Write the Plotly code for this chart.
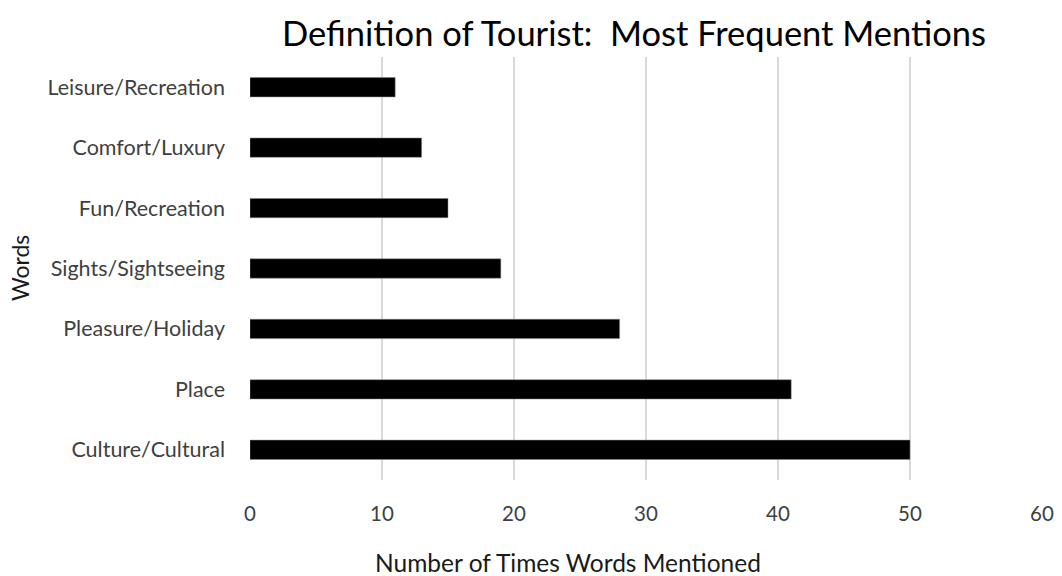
import plotly.graph_objects as go

categories = ["Culture/Cultural", "Place", "Pleasure/Holiday", "Sights/Sightseeing",
              "Fun/Recreation", "Comfort/Luxury", "Leisure/Recreation"]
values = [50, 41, 28, 19, 15, 13, 11]
x_ticks = [0, 10, 20, 30, 40, 50, 60]

FONT = "Lato"
W, H = 1062, 576
L, T, R, B = 250, 57, 20, 96

fig = go.Figure(go.Bar(
    x=values, y=categories, orientation="h",
    marker=dict(color="black", line=dict(color="#888888", width=0.5)),
    width=0.32,
))

pw, ph = W - L - R, H - T - B
def px(x): return (x - L) / pw
def py(y): return (H - B - y) / ph

fig.update_layout(
    width=W, height=H,
    margin=dict(l=L, r=R, t=T, b=B, autoexpand=False),
    paper_bgcolor="white", plot_bgcolor="white",
    showlegend=False,
    font=dict(family=FONT, color="#404040", size=21),
    xaxis=dict(range=[0, 60], tickvals=x_ticks, showgrid=True, gridcolor="#d9d9d9",
               gridwidth=1.5, zeroline=False, showline=False, ticks="", automargin=False,
               ticklabelstandoff=19, tickfont=dict(size=20.5, color="#404040")),
    yaxis=dict(showgrid=False, zeroline=False, showline=False, ticks="", automargin=False,
               ticklabelstandoff=24, tickfont=dict(size=21.5, color="#404040"),
               range=[-0.5, 6.5]),
    annotations=[
        dict(text="Definition of Tourist:  Most Frequent Mentions",
             x=px(634), y=py(32), xref="paper", yref="paper",
             xanchor="center", yanchor="middle", showarrow=False,
             font=dict(family=FONT, size=34.5, color="black")),
        dict(text="Number of Times Words Mentioned",
             x=px(568), y=py(562), xref="paper", yref="paper",
             xanchor="center", yanchor="middle", showarrow=False,
             font=dict(family=FONT, size=24.5, color="#1a1a1a")),
        dict(text="Words", textangle=-90,
             x=px(20), y=py(268), xref="paper", yref="paper",
             xanchor="center", yanchor="middle", showarrow=False,
             font=dict(family=FONT, size=23, color="#1a1a1a")),
    ],
)

fig.write_html("out.html",
               config={"displayModeBar": False},
               post_script="document.body.style.margin='0';document.body.style.overflow='hidden';")
